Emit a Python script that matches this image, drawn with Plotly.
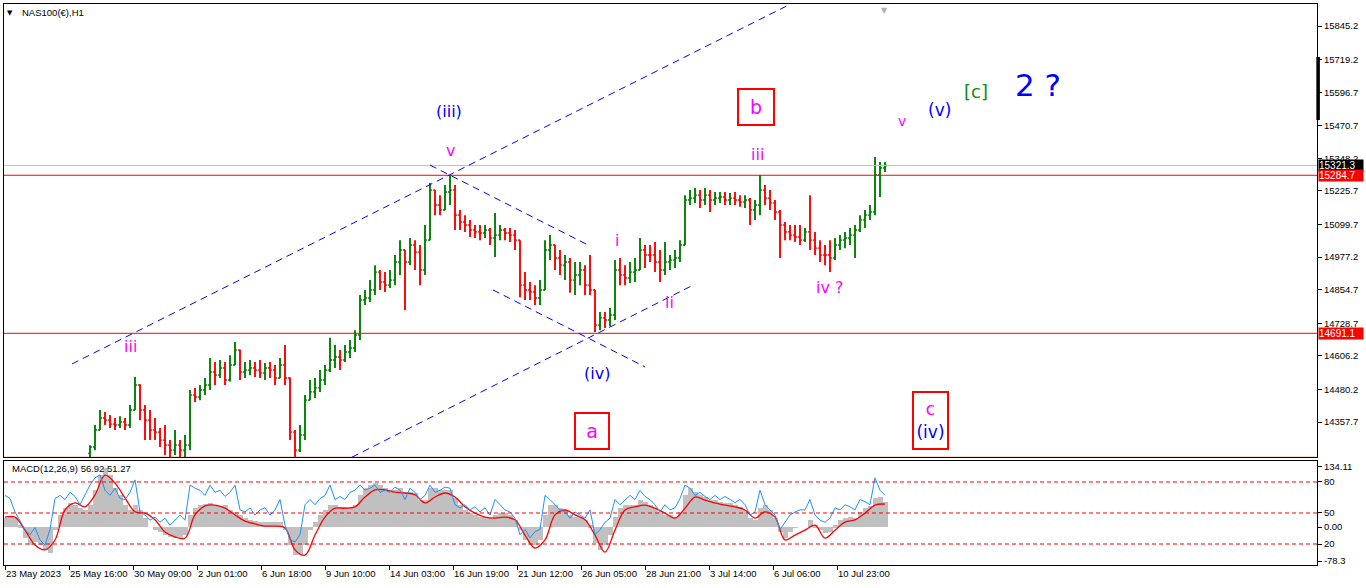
import plotly.graph_objects as go

# ---------------- DATA ----------------
# price bars: each entry summarises 5 hourly bars; bar_index = hours since "23 May 2023" label
bar_index = list(range(85, 881, 5))
first_open = 14240
highs = [14271, 14347, 14403, 14396, 14384, 14373, 14380, 14373, 14422, 14527,
         14500, 14422, 14403, 14373, 14335, 14347, 14290, 14328, 14290, 14309,
         14478, 14486, 14497, 14523, 14598, 14583, 14591, 14583, 14609, 14658,
         14630, 14583, 14591, 14583, 14591, 14580, 14583, 14572, 14598, 14647,
         14525, 14328, 14347, 14459, 14516, 14523, 14553, 14572, 14674, 14647,
         14628, 14647, 14666, 14703, 14835, 14854, 14891, 14947, 14929, 14921,
         14929, 14985, 15041, 15004, 15049, 15041, 15023, 15098, 15256, 15229,
         15210, 15248, 15286, 15248, 15154, 15135, 15117, 15098, 15098, 15098,
         15087, 15143, 15098, 15087, 15087, 15079, 15041, 14921, 14884, 14872,
         14891, 15041, 15060, 15023, 15004, 14985, 14974, 14959, 14959, 14947,
         14985, 14854, 14771, 14771, 14786, 14966, 14974, 14947, 14959, 14974,
         15049, 15023, 15023, 15034, 15004, 15034, 14985, 15004, 15041, 15210,
         15229, 15237, 15229, 15237, 15229, 15222, 15222, 15222, 15218, 15222,
         15210, 15210, 15199, 15192, 15286, 15248, 15229, 15192, 15154, 15109,
         15098, 15098, 15098, 15087, 15210, 15072, 15041, 15023, 15041, 15049,
         15060, 15072, 15087, 15098, 15135, 15154, 15173, 15353, 15335, 15335]
lows = [14215, 14252, 14328, 14347, 14335, 14328, 14335, 14328, 14335, 14403,
        14365, 14290, 14290, 14290, 14264, 14234, 14226, 14234, 14226, 14226,
        14252, 14433, 14440, 14459, 14478, 14497, 14523, 14497, 14510, 14572,
        14516, 14523, 14534, 14527, 14523, 14516, 14523, 14497, 14523, 14497,
        14290, 14226, 14245, 14290, 14440, 14448, 14471, 14497, 14546, 14561,
        14553, 14583, 14598, 14621, 14666, 14797, 14809, 14835, 14854, 14846,
        14861, 14872, 14910, 14778, 14947, 14929, 14872, 14910, 15041, 15135,
        15135, 15154, 15173, 15079, 15079, 15072, 15053, 15049, 15041, 15049,
        15023, 14978, 15041, 15041, 15034, 15004, 14827, 14816, 14816, 14797,
        14797, 14854, 14966, 14929, 14910, 14891, 14843, 14835, 14872, 14835,
        14835, 14696, 14703, 14711, 14718, 14741, 14872, 14872, 14880, 14884,
        14929, 14936, 14959, 14921, 14884, 14910, 14929, 14936, 14959, 15023,
        15173, 15181, 15162, 15173, 15147, 15173, 15181, 15173, 15173, 15173,
        15166, 15162, 15098, 15117, 15135, 15173, 15154, 15117, 14974, 15041,
        15041, 15034, 15023, 15034, 15004, 14985, 14959, 14947, 14921, 14966,
        15004, 15011, 15023, 14974, 15072, 15087, 15117, 15135, 15203, 15297]
closes = [14264, 14328, 14373, 14365, 14350, 14347, 14358, 14347, 14403, 14497,
          14403, 14365, 14328, 14320, 14290, 14271, 14252, 14271, 14252, 14271,
          14459, 14452, 14478, 14497, 14546, 14534, 14561, 14516, 14572, 14628,
          14546, 14553, 14561, 14553, 14542, 14561, 14553, 14523, 14572, 14523,
          14320, 14252, 14309, 14440, 14471, 14486, 14516, 14553, 14591, 14602,
          14591, 14621, 14636, 14685, 14816, 14824, 14854, 14921, 14884, 14872,
          14891, 14959, 15004, 14959, 15023, 14996, 14929, 15041, 15229, 15173,
          15154, 15222, 15229, 15135, 15109, 15098, 15079, 15072, 15068, 15079,
          15049, 15060, 15079, 15068, 15060, 15041, 14872, 14854, 14846, 14824,
          14854, 15004, 15023, 14974, 14947, 14959, 14891, 14910, 14929, 14872,
          14854, 14722, 14749, 14741, 14760, 14929, 14910, 14899, 14921, 14929,
          15004, 14985, 14985, 14959, 14929, 14959, 14966, 14974, 15023, 15192,
          15199, 15210, 15192, 15210, 15192, 15199, 15203, 15192, 15199, 15192,
          15184, 15192, 15154, 15173, 15229, 15199, 15181, 15147, 15098, 15072,
          15060, 15053, 15041, 15072, 15041, 15011, 14985, 14985, 14974, 15023,
          15041, 15049, 15060, 15079, 15117, 15135, 15147, 15286, 15312, 15321.3]

# MACD window
macd_index = list(range(0, 881, 5))
macd_hist = [20, 22, 20, 4, -25, -40, -34, -40, -51, -58,
             -7, 27, 42, 54, 49, 42, 38, 49, 83, 116,
             132, 116, 87, 72, 49, 38, 49, 38, 20, 0,
             -7, -11, -18, -22, -25, -25, -18, 27, 42, 49,
             51, 54, 49, 47, 49, 38, 34, 27, 20, 16,
             13, 11, 11, 11, 11, 11, -7, -40, -63, -63,
             -40, -7, 11, 27, 38, 49, 49, 45, 45, 42,
             49, 72, 87, 94, 98, 94, 87, 83, 83, 87,
             78, 78, 76, 60, 60, 87, 87, 83, 83, 83,
             65, 49, 38, 31, 27, 22, 22, 20, 27, 31,
             31, 27, 16, -7, -29, -40, -40, -29, 27, 49,
             49, 42, 38, 27, 22, 20, 16, 4, -36, -51,
             -40, -18, 22, 42, 49, 49, 49, 60, 56, 49,
             42, 34, 27, 27, 22, 34, 72, 87, 78, 72,
             67, 60, 60, 56, 54, 54, 49, 45, 38, 20,
             16, 42, 49, 38, 20, -11, -25, -11, -2, 0,
             0, 16, 4, -7, -13, -11, 4, 16, 20, 22,
             20, 34, 42, 47, 65, 67, 56.92]
signal_index = list(range(0, 881, 10))
macd_signal = [22, 22, -7, -40, -51, -29, 38, 54, 45, 72,
               116, 98, 65, 34, 31, 16, -11, -22, -25, 27,
               47, 49, 42, 27, 13, 7, 2, 2, -2, -51,
               -63, -18, 22, 42, 42, 45, 67, 83, 83, 78,
               76, 72, 54, 67, 76, 67, 45, 31, 22, 20,
               22, 16, -18, -47, -29, 27, 38, 27, 16, -18,
               -56, -7, 38, 45, 49, 42, 31, 20, 42, 67,
               60, 54, 49, 45, 38, 20, 34, 22, -29, -18,
               -7, 4, -25, -7, 11, 16, 31, 49, 51.27]
osc_line = [67, 64, 51, 43, 34, 29, 36, 24, 19, 34,
            64, 67, 63, 70, 66, 58, 67, 77, 84, 87,
            72, 67, 74, 64, 63, 70, 82, 51, 48, 43,
            46, 41, 45, 38, 43, 48, 43, 77, 74, 72,
            67, 77, 70, 72, 66, 70, 77, 53, 51, 55,
            48, 53, 55, 48, 53, 63, 38, 24, 22, 29,
            58, 63, 58, 64, 67, 77, 63, 66, 63, 70,
            72, 77, 72, 74, 77, 70, 72, 70, 75, 72,
            63, 74, 70, 63, 67, 77, 70, 72, 75, 74,
            58, 55, 58, 53, 56, 51, 55, 48, 63, 58,
            53, 51, 45, 29, 34, 26, 32, 34, 67, 63,
            58, 53, 51, 45, 51, 48, 45, 53, 29, 34,
            41, 45, 63, 58, 63, 67, 63, 72, 66, 63,
            58, 51, 58, 53, 55, 64, 77, 74, 67, 70,
            66, 63, 67, 63, 66, 63, 60, 63, 58, 48,
            51, 72, 58, 53, 48, 34, 41, 48, 51, 53,
            53, 63, 48, 43, 41, 45, 55, 53, 58, 56,
            53, 63, 61, 58, 84, 72, 67]
osc_levels = [80, 50, 20]

# axes
price_ticks = [15845.2, 15719.2, 15596.7, 15470.7, 15348.2, 15225.7, 15099.7,
               14977.2, 14854.7, 14728.7, 14606.2, 14480.2, 14357.7]
date_tick_index = [0, 64, 128, 192, 256, 320, 384, 448, 512, 576, 640, 704, 768, 832]
date_tick_text = ["23 May 2023", "25 May 16:00", "30 May 09:00", "2 Jun 01:00",
                  "6 Jun 18:00", "9 Jun 10:00", "14 Jun 03:00", "16 Jun 19:00",
                  "21 Jun 12:00", "26 Jun 05:00", "28 Jun 21:00", "3 Jul 14:00",
                  "6 Jul 06:00", "10 Jul 23:00"]

# horizontal levels
bid_price = 15321.3
red_levels = [15284.7, 14691.1, 14225.2]

# drawn trend lines: (index0, price0, index1, price1)
trend_lines = [(67, 14576, 800, 15955),
               (347, 14226, 688, 14872),
               (425, 15323, 583, 15023),
               (488, 14854, 640, 14565)]

# wave labels: (text, index, price, colour, size)
wave_labels = [("iii", 125, 14643, "#FF00FF", 16),
               ("(iii)", 444, 15526, "#0000FF", 16),
               ("v", 445, 15376, "#FF00FF", 16),
               ("iii", 752, 15361, "#FF00FF", 16),
               ("i", 612, 15038, "#FF00FF", 16),
               ("ii", 664, 14805, "#FF00FF", 16),
               ("iv ?", 825, 14865, "#FF00FF", 16),
               ("(iv)", 592, 14542, "#0000FF", 16),
               ("v", 897, 15488, "#FF00FF", 14),
               ("(v)", 934, 15530, "#0000FF", 17),
               ("[c]", 971, 15601, "#128A12", 18),
               ("2 ?", 1033, 15624, "#0000FF", 31)]
boxed_labels = [("b", 751, 15541, 32, 32, 19),
                ("a", 587, 14324, 30, 32, 19),
                ("c<br><span style='color:#0000FF;font-size:17px'>(iv)</span>", 925, 14365, 31, 53, 17)]

# ---------------- FIGURE ----------------
opens = [first_open] + closes[:-1]

fig = go.Figure()
fig.add_trace(go.Ohlc(x=bar_index, open=opens, high=highs, low=lows, close=closes,
                      increasing=dict(line=dict(color="#008000", width=1.9)),
                      decreasing=dict(line=dict(color="#FF0000", width=1.9)),
                      tickwidth=0.35, xaxis="x", yaxis="y", hoverinfo="skip"))
fig.add_trace(go.Bar(x=macd_index, y=macd_hist, width=5, marker=dict(color="#C0C0C0", line=dict(width=0)),
                     xaxis="x2", yaxis="y2", hoverinfo="skip"))
fig.add_trace(go.Scatter(x=signal_index, y=macd_signal, mode="lines", line=dict(color="#FF0000", width=1.3, shape="spline"),
                         xaxis="x2", yaxis="y2", hoverinfo="skip"))
fig.add_trace(go.Scatter(x=macd_index, y=osc_line, mode="lines", line=dict(color="#1E90FF", width=1),
                         xaxis="x2", yaxis="y3", hoverinfo="skip"))

shapes = []
shapes.append(dict(type="line", xref="x domain", yref="y", x0=0, x1=1, y0=bid_price, y1=bid_price,
                   line=dict(color="#C0C0C0", width=1)))
for lv in red_levels:
    shapes.append(dict(type="line", xref="x domain", yref="y", x0=0, x1=1, y0=lv, y1=lv,
                       line=dict(color="#FF0000", width=1)))
for (a0, p0, a1, p1) in trend_lines:
    shapes.append(dict(type="line", xref="x", yref="y", x0=a0, y0=p0, x1=a1, y1=p1,
                       line=dict(color="#0000FF", width=1, dash="7px,5px")))
for lv in osc_levels:
    shapes.append(dict(type="line", xref="x2 domain", yref="y3", x0=0, x1=1, y0=lv, y1=lv,
                       line=dict(color="#FF0000", width=1, dash="4px,3px")))
# scroll marker on the price scale
shapes.append(dict(type="rect", xref="paper", yref="y", x0=0.9995, x1=1.0022, y0=15492, y1=15729,
                   fillcolor="black", line=dict(width=0)))

ann = []
for (t, ix, p, c, s) in wave_labels:
    ann.append(dict(text=t, x=ix, y=p, xref="x", yref="y", showarrow=False,
                    font=dict(family="DejaVu Sans", size=s, color=c)))
for (t, ix, p, w, h, s) in boxed_labels:
    ann.append(dict(text=t, x=ix, y=p, xref="x", yref="y", showarrow=False, width=w, height=h,
                    bordercolor="#FF0000", borderwidth=2, borderpad=1, bgcolor="white",
                    font=dict(family="DejaVu Sans", size=s, color="#FF00FF")))
# price tags on the scale
tags = [(bid_price, "black")] + [(lv, "#FF0000") for lv in red_levels]
for (p, col) in tags:
    ann.append(dict(text=f"{p:.1f}", x=1.001, y=p, xref="paper", yref="y", xanchor="left", yanchor="middle",
                    showarrow=False, bgcolor=col, borderpad=0, width=44, align="left",
                    font=dict(family="Liberation Sans", size=10, color="white")))
ann.append(dict(text="<b>▼</b>", x=0.001, y=0.981, xref="x domain", yref="y domain", xanchor="left",
                yanchor="middle", showarrow=False, font=dict(family="DejaVu Sans", size=7, color="black")))
ann.append(dict(text="NAS100(€),H1", x=0.0122, y=0.981, xref="x domain", yref="y domain", xanchor="left",
                yanchor="middle", showarrow=False, font=dict(family="Liberation Sans", size=9.5, color="black")))
ann.append(dict(text=f"MACD(12,26,9) {macd_hist[-1]:.2f} {macd_signal[-1]:.2f}", x=0.0046, y=0.923,
                xref="x domain", yref="y2 domain", xanchor="left", yanchor="middle", showarrow=False,
                font=dict(family="Liberation Sans", size=9.5, color="black")))
ann.append(dict(text="▼", x=879, y=1.0, xref="x", yref="y domain", xanchor="center", yanchor="top",
                showarrow=False, font=dict(family="DejaVu Sans", size=8, color="#B0B0B0")))

axis_font = dict(family="Liberation Sans", size=9.5, color="black")
common_x = dict(range=[-1, 1312], showgrid=False, zeroline=False, showline=True, linecolor="black",
                linewidth=1, mirror=True, fixedrange=True, automargin=False)
common_y = dict(side="right", ticks="outside", ticklen=4, tickcolor="black", showgrid=False,
                zeroline=False, tickfont=axis_font, automargin=False, tickangle=0)
fig.update_layout(
    width=1366, height=588, autosize=False,
    margin=dict(l=4, r=49, t=4, b=23, autoexpand=False),
    paper_bgcolor="white", plot_bgcolor="white",
    showlegend=False, bargap=0,
    font=axis_font,
    xaxis=dict(**common_x, domain=[0, 1], anchor="y", showticklabels=False, ticks="",
               rangeslider=dict(visible=False)),
    yaxis=dict(**common_y, domain=[0.1925, 1], range=[14226.5, 15928], anchor="x",
               tickvals=price_ticks, ticktext=[f"{v:.1f}" for v in price_ticks],
               showline=True, linecolor="black", mirror=True),
    xaxis2=dict(**common_x, domain=[0, 1], anchor="y2", matches="x",
                tickvals=date_tick_index, ticktext=date_tick_text, ticks="outside", ticklen=4,
                tickcolor="black", ticklabelposition="outside right", tickfont=axis_font, tickangle=0),
    yaxis2=dict(**common_y, domain=[0, 0.1854], range=[-84.9, 147.5], anchor="x2",
                tickvals=[134.11, 0, -76], ticktext=["134.11", "0.00", "-78.3"],
                showline=True, linecolor="black", mirror=True),
    yaxis3=dict(**common_y, overlaying="y2", range=[-0.3, 100.3], anchor="x2",
                tickvals=osc_levels, ticktext=[str(v) for v in osc_levels], showline=False),
    shapes=shapes, annotations=ann,
)

fig.write_html("out.html", config={"displayModeBar": False},
               post_script="document.body.style.margin='0';document.body.style.overflow='hidden';")
